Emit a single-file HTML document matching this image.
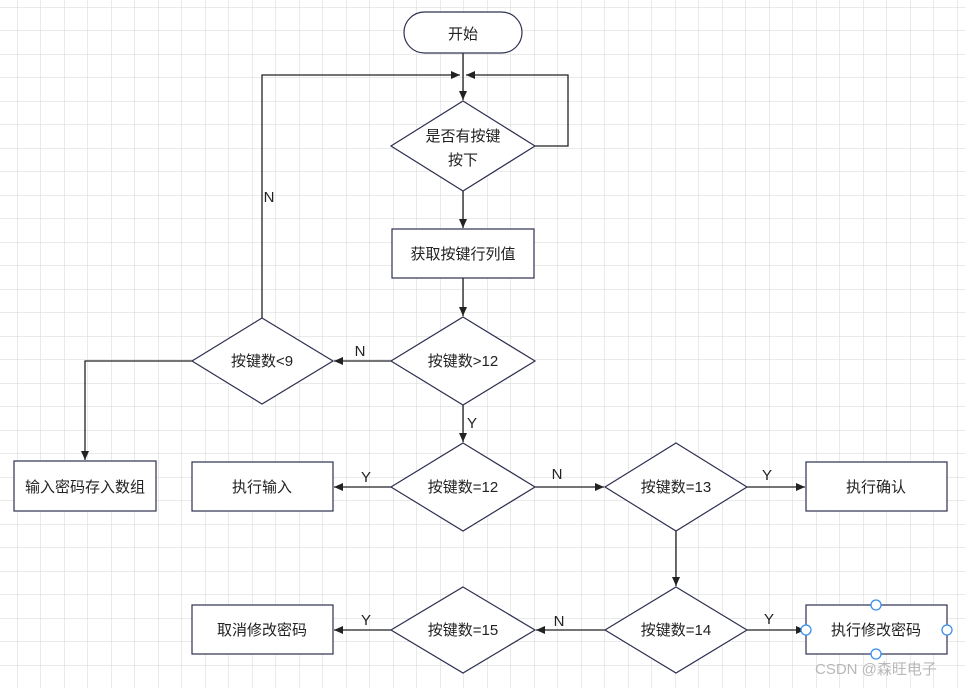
<!DOCTYPE html>
<html><head><meta charset="utf-8"><style>
html,body{margin:0;padding:0;background:#fff;}
svg{display:block;}
text{font-family:"Liberation Sans","Noto Sans CJK SC",sans-serif;font-size:15px;fill:#222;}
</style></head><body>
<svg width="965" height="688" viewBox="0 0 965 688" xmlns="http://www.w3.org/2000/svg">
<defs>
<pattern id="g" x="17" y="7" width="23.5" height="23.5" patternUnits="userSpaceOnUse">
<path d="M0 0H23.5M0 0V23.5" stroke="#d6d6d6" stroke-width="1" fill="none"/>
</pattern>
<marker id="a" markerWidth="10" markerHeight="10" refX="9" refY="5" orient="auto" markerUnits="userSpaceOnUse">
<path d="M0 1L9 5L0 9Z" fill="#222"/>
</marker>
</defs>
<rect width="965" height="688" fill="url(#g)"/>
<g stroke="#222" stroke-width="1.3" fill="none">
<path d="M463 53V100" marker-end="url(#a)"/>
<path d="M535 146H568V75H466" marker-end="url(#a)"/>
<path d="M262 318V75H460" marker-end="url(#a)"/>
<path d="M463 191V228" marker-end="url(#a)"/>
<path d="M463 278V316" marker-end="url(#a)"/>
<path d="M391 361H334" marker-end="url(#a)"/>
<path d="M192 361H85V460" marker-end="url(#a)"/>
<path d="M463 405V442" marker-end="url(#a)"/>
<path d="M391 487H334" marker-end="url(#a)"/>
<path d="M535 487H604" marker-end="url(#a)"/>
<path d="M747 487H805" marker-end="url(#a)"/>
<path d="M676 531V586" marker-end="url(#a)"/>
<path d="M747 630H805" marker-end="url(#a)"/>
<path d="M605 630H536" marker-end="url(#a)"/>
<path d="M391 630H334" marker-end="url(#a)"/>
</g>
<g stroke="#2d3050" stroke-width="1.2" fill="#fff">
<rect x="404" y="12" width="118" height="41" rx="20.5"/>
<path d="M463 101L535 146L463 191L391 146Z"/>
<rect x="392" y="229" width="142" height="49"/>
<path d="M463 317L535 361L463 405L391 361Z"/>
<path d="M262 318L333 361L262 404L192 361Z"/>
<rect x="14" y="461" width="142" height="50"/>
<rect x="192" y="462" width="141" height="49"/>
<path d="M463 443L535 487L463 531L391 487Z"/>
<path d="M676 443L747 487L676 531L605 487Z"/>
<rect x="806" y="462" width="141" height="49"/>
<path d="M676 587L747 630L676 673L605 630Z"/>
<path d="M463 587L535 630L463 673L391 630Z"/>
<rect x="192" y="605" width="141" height="49"/>
<rect x="806" y="605" width="141" height="49"/>
</g>
<g stroke="#3b8eea" stroke-width="1.3" fill="#fff">
<circle cx="876" cy="605" r="5"/><circle cx="876" cy="654" r="5"/>
<circle cx="806" cy="630" r="5"/><circle cx="947" cy="630" r="5"/>
</g>
<g text-anchor="middle">
<text x="463" y="39">开始</text>
<text x="463" y="141">是否有按键</text>
<text x="463" y="165">按下</text>
<text x="463" y="259">获取按键行列值</text>
<text x="463" y="366">按键数&gt;12</text>
<text x="262" y="366">按键数&lt;9</text>
<text x="85" y="492">输入密码存入数组</text>
<text x="262" y="492">执行输入</text>
<text x="463" y="492">按键数=12</text>
<text x="676" y="492">按键数=13</text>
<text x="876" y="492">执行确认</text>
<text x="676" y="635">按键数=14</text>
<text x="463" y="635">按键数=15</text>
<text x="262" y="635">取消修改密码</text>
<text x="876" y="635">执行修改密码</text>
<text x="269" y="202">N</text>
<text x="360" y="356">N</text>
<text x="472" y="428">Y</text>
<text x="366" y="482">Y</text>
<text x="557" y="479">N</text>
<text x="767" y="480">Y</text>
<text x="769" y="624">Y</text>
<text x="559" y="626">N</text>
<text x="366" y="625">Y</text>
</g>
<text x="815" y="674" style="fill:#b8b8b8;font-size:15px">CSDN @森旺电子</text>
</svg>
</body></html>
